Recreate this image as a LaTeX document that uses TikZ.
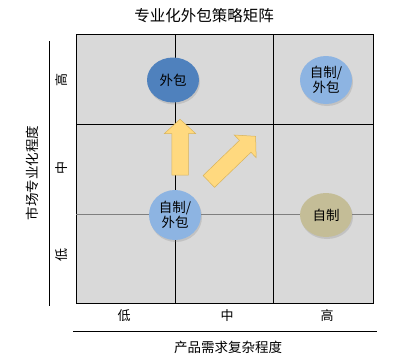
\documentclass[tikz,border=0pt]{standalone}
\usepackage{fontspec}
\setmainfont{Noto Sans CJK SC}
\usepackage{tikz}
\usetikzlibrary{shapes.geometric,shapes.arrows,shadows}
\definecolor{CellGrey}{HTML}{D9D9D9}
\definecolor{MidGrey}{HTML}{7F7F7F}
\definecolor{OutsourceBlue}{HTML}{4F81BD}
\definecolor{MixBlue}{HTML}{8DB4E2}
\definecolor{MakeKhaki}{HTML}{C4BD97}
\definecolor{MoveFill}{HTML}{FFD97F}
\definecolor{MoveEdge}{HTML}{D9B45A}

\begin{document}
\begin{tikzpicture}[
      x=1pt,y=-1pt,
      font=\fontsize{13.5}{15}\selectfont,
      cell/.style={draw=black,fill=CellGrey,line width=0.8pt},
      option/.style={ellipse,minimum width=52pt,minimum height=46pt,inner sep=0pt,align=center,
        drop shadow={opacity=0.25,shadow xshift=1pt,shadow yshift=-2pt}},
      move/.style={single arrow,draw=MoveEdge,fill=MoveFill,line width=0.5pt,inner sep=8pt,
        single arrow head extend=7.5pt,single arrow tip angle=95},
      level/.style={font=\fontsize{13}{15}\selectfont},
      axis/.style={font=\fontsize{13.5}{15}\selectfont}
    ]
      \useasboundingbox (0,0) rectangle (407,362);
      % matrix
      \node[font=\fontsize{15.5}{17}\selectfont] (title) at (204,16) {专业化外包策略矩阵};
      \draw[cell] (76,34) rectangle (373,303);
      \draw[MidGrey,line width=0.6pt] (76,214) -- (373,214);
      \draw[line width=0.8pt] (76,124) -- (373,124);
      \draw[line width=0.8pt] (175,34) -- (175,303);
      \draw[line width=0.8pt] (273,34) -- (273,303);
      % axes
      \draw[line width=0.8pt] (49,41) -- (49,306);
      \draw[line width=0.8pt] (73,331) -- (377,331);
      \node[level,rotate=90] (yhigh) at (62,80) {高};
      \node[level,rotate=90] (ymid) at (62,168) {中};
      \node[level,rotate=90] (ylow) at (62,255) {低};
      \node[level] (xlow) at (124,316) {低};
      \node[level] (xmid) at (227,316) {中};
      \node[level] (xhigh) at (327,316) {高};
      \node[axis,rotate=90] (ytitle) at (32,173) {市场专业化程度};
      \node[axis] (xtitle) at (228,347) {产品需求复杂程度};
      % options
      \node[option,fill=OutsourceBlue,minimum height=45pt] (buy) at (173,80) {外包};
      \node[option,fill=MixBlue,minimum height=48pt] (mixtop) at (326,80) {自制/\\外包};
      \node[option,fill=MixBlue,minimum height=50pt] (mixlow) at (175,215) {自制/\\外包};
      \node[option,fill=MakeKhaki,minimum height=44pt] (make) at (326,215) {自制};
      % moves
      \node[move,rotate=90,minimum height=56pt,minimum width=31pt] (up) at (180,151) {};
      \node[move,rotate=44,minimum height=65pt,minimum width=31pt] (diag) at (229.5,161.5) {};
    \end{tikzpicture}
\end{document}
